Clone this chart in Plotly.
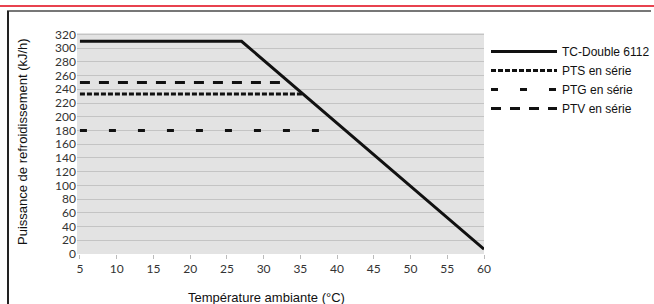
import plotly.graph_objects as go

# Data
tc_x = [5, 27, 60]
tc_y = [310, 310, 7]
pts_x = [5, 35.4]
pts_y = [233, 233]
ptg_x = [5, 38.2]
ptg_y = [180, 180]
ptv_x = [5, 33.2]
ptv_y = [250, 250]

x_ticks = [5, 10, 15, 20, 25, 30, 35, 40, 45, 50, 55, 60]
y_ticks = list(range(0, 321, 20))

fig = go.Figure()
fig.add_trace(go.Scatter(x=tc_x, y=tc_y, mode="lines", name="TC-Double 6112",
                         line=dict(color="#111111", width=3)))
fig.add_trace(go.Scatter(x=pts_x, y=pts_y, mode="lines", name="PTS en série",
                         line=dict(color="#111111", width=3, dash="5px,2px")))
fig.add_trace(go.Scatter(x=ptg_x, y=ptg_y, mode="lines", name="PTG en série",
                         line=dict(color="#111111", width=3, dash="7px,22px")))
fig.add_trace(go.Scatter(x=ptv_x, y=ptv_y, mode="lines", name="PTV en série",
                         line=dict(color="#111111", width=3, dash="10px,9px")))

W, H = 654, 304
L, R, T, B = 77, 170, 33, 50
PW = W - L - R
PH = H - T - B

def px(x):
    return (x - L) / PW

def py(y):
    return (H - B - y) / PH

tickfont = dict(family="Lato, Open Sans, sans-serif", size=12, color="#333333")
titlefont = dict(family="Liberation Sans, Arial, sans-serif", size=13, color="#111111")
fig.update_layout(
    width=W, height=H,
    margin=dict(l=L, r=R, t=T, b=B, autoexpand=False),
    paper_bgcolor="white",
    plot_bgcolor="#e3e3e3",
    showlegend=True,
    legend=dict(x=px(486), y=py(37), xanchor="left", yanchor="top",
                font=dict(family="Liberation Sans, Arial, sans-serif", size=12, color="#111111"),
                bgcolor="rgba(0,0,0,0)", tracegroupgap=0, itemwidth=66),
    xaxis=dict(range=[4.6, 60], tickvals=x_ticks, ticktext=[str(v) for v in x_ticks],
               showgrid=False, zeroline=False, showline=False, automargin=False,
               ticks="outside", ticklen=4, tickcolor="#bbbbbb",
               tickfont=tickfont),
    yaxis=dict(range=[0, 322], tickvals=y_ticks, ticktext=[str(v) for v in y_ticks],
               showgrid=True, gridcolor="#c4c4c4", gridwidth=1, zeroline=False, showline=False,
               automargin=False, ticks="", tickfont=tickfont),
    annotations=[
        dict(text="Température ambiante (°C)", xref="paper", yref="paper",
             x=px(266), y=py(297), xanchor="center", yanchor="middle",
             showarrow=False, font=titlefont),
        dict(text="Puissance de refroidissement (kJ/h)", xref="paper", yref="paper",
             x=px(22), y=py(142), xanchor="center", yanchor="middle", textangle=-90,
             showarrow=False, font=titlefont),
    ],
    shapes=[
        dict(type="line", xref="paper", yref="paper", x0=px(0), x1=px(654),
             y0=py(6), y1=py(6), line=dict(color="#e8424f", width=2)),
        dict(type="line", xref="paper", yref="paper", x0=px(7), x1=px(651),
             y0=py(11), y1=py(11), line=dict(color="#777777", width=2)),
        dict(type="line", xref="paper", yref="paper", x0=px(8), x1=px(8),
             y0=py(11), y1=py(304), line=dict(color="#222222", width=2)),
    ],
)

fig.write_html("out.html", config={"displayModeBar": False},
               post_script="document.body.style.margin='0';document.body.style.overflow='hidden';")
